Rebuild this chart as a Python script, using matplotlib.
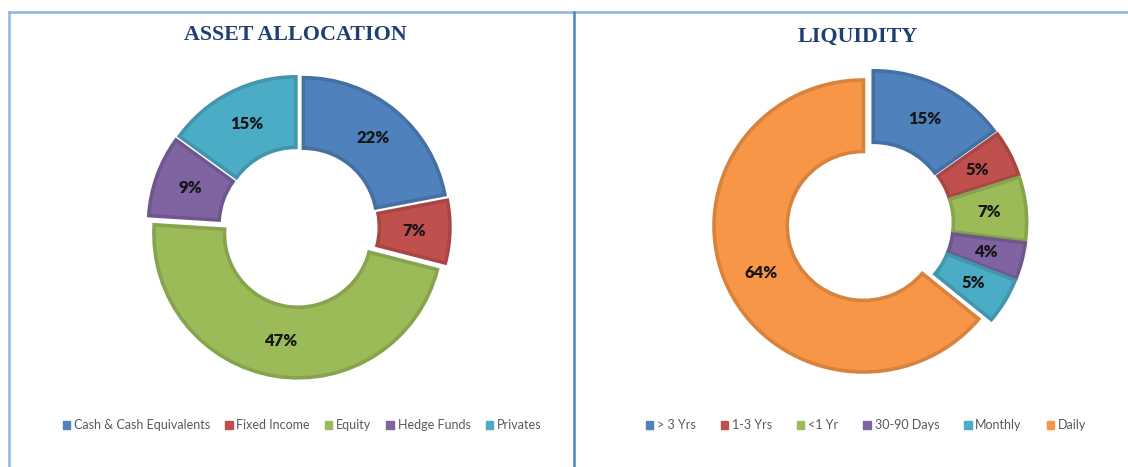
import matplotlib.pyplot as plt
import matplotlib.patches as mpatches
from matplotlib.lines import Line2D
import matplotlib.colors as mcolors

# data
asset_labels = ['Cash & Cash Equivalents', 'Fixed Income', 'Equity', 'Hedge Funds', 'Privates']
asset_values = [22, 7, 47, 9, 15]
asset_colors = ['#4F81BD', '#C0504D', '#9BBB59', '#8064A2', '#4BACC6']

liq_labels = ['> 3 Yrs', '1-3 Yrs', '<1 Yr', '30-90 Days', 'Monthly', 'Daily']
liq_values = [15, 5, 7, 4, 5, 64]
liq_colors = ['#4F81BD', '#C0504D', '#9BBB59', '#8064A2', '#4BACC6', '#F79646']

W, H = 1128, 467
fig = plt.figure(figsize=(W / 100, H / 100), dpi=100)
fig.patch.set_facecolor('white')

def px_axes(cx, cy, sx, sy, lim=1.2):
    # axes centred at pixel (cx, cy) measured from the top-left corner
    w = 2 * lim * sx
    h = 2 * lim * sy
    return fig.add_axes([(cx - w / 2) / W, (H - cy - h / 2) / H, w / W, h / H])

def donut(ax, values, colors):
    wedges, texts, autotexts = ax.pie(
        values, colors=colors, startangle=90, counterclock=False,
        explode=[0.048] * len(values), radius=1.0,
        autopct='%d%%', pctdistance=0.755,
        wedgeprops=dict(width=0.49, linewidth=2.6),
        textprops=dict(fontsize=12, fontweight='heavy', color='#161616', family='Lato'))
    for w, c in zip(wedges, colors):
        rgb = mcolors.to_rgb(c)
        w.set_edgecolor(tuple(v * 0.87 for v in rgb))
    ax.set_xlim(-1.2, 1.2)
    ax.set_ylim(-1.2, 1.2)
    ax.set_aspect('auto')
    ax.axis('off')

ax1 = px_axes(299, 227, 144, 144)
donut(ax1, asset_values, asset_colors)

ax2 = px_axes(870, 223, 149.5, 146)
donut(ax2, liq_values, liq_colors)

# titles
title_kw = dict(fontsize=15.8, fontweight='bold', color='#1F3F73', family='Liberation Serif',
                ha='center', va='center')
fig.text(295 / W, 1 - 35 / H, 'ASSET ALLOCATION', **title_kw)
fig.text(858 / W, 1 - 37 / H, 'LIQUIDITY', **title_kw)

# legends
def legend(labels, colors, cx, spacing):
    handles = [mpatches.Patch(facecolor=c, edgecolor=c) for c in colors]
    leg = fig.legend(handles, labels, loc='center', bbox_to_anchor=(cx / W, 1 - 425 / H),
                     ncol=len(labels), frameon=False, handlelength=0.6, handleheight=0.6,
                     handletextpad=0.3, columnspacing=spacing,
                     prop=dict(family='Lato', size=9))
    for t in leg.get_texts():
        t.set_color('#595959')

legend(asset_labels, asset_colors, 302, 1.2)
legend(liq_labels, liq_colors, 866, 2.0)

# panel borders
fig.add_artist(Line2D([9 / W, 9 / W], [0, 1 - 11.5 / H], color='#8DB3E2', lw=1.8))
fig.add_artist(Line2D([9 / W, 1], [1 - 11.5 / H, 1 - 11.5 / H], color='#8DB3E2', lw=1.8))
fig.add_artist(Line2D([574 / W, 574 / W], [0, 1 - 11.5 / H], color='#4F81BD', lw=1.8))

fig.savefig('out.png', dpi=100)
